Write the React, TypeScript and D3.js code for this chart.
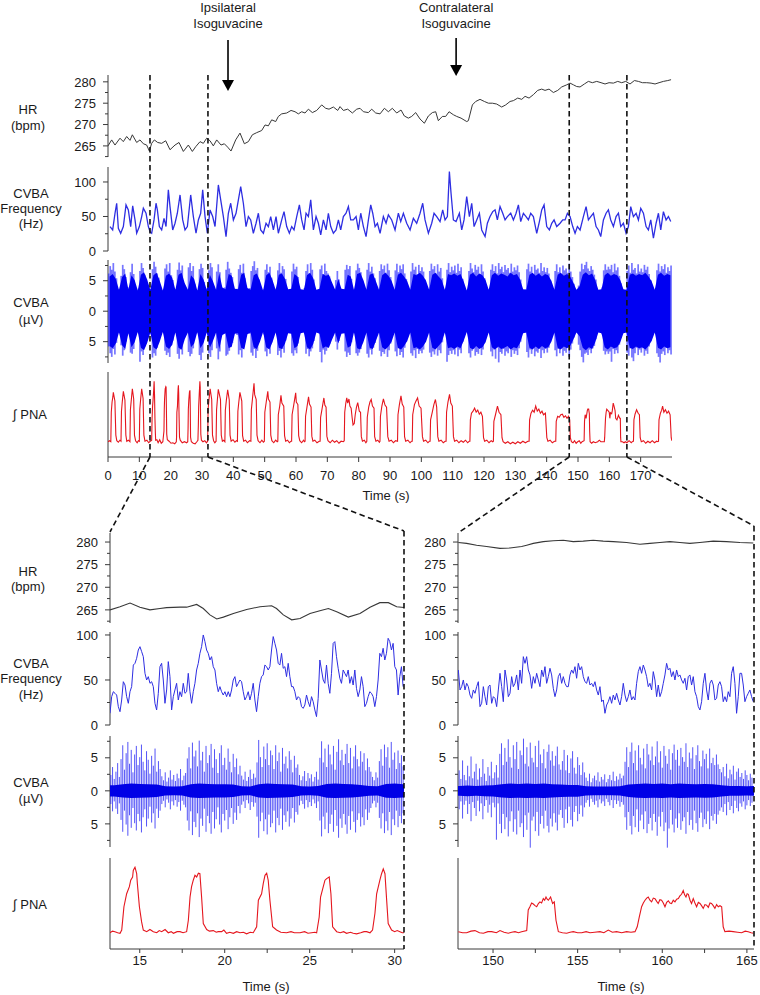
import React from "react";
import * as d3 from "d3";

type P = [number, number];

// ---------------- axis / tick data ----------------
const hrTicks = [265, 270, 275, 280];
const hrMinor = [262.5, 267.5, 272.5, 277.5];
const freqTicks = [0, 50, 100];
const freqMinor = [25, 75];
const cvbaTicks = [-5, 0, 5];
const cvbaTickLabels = ["5", "0", "5"];
const cvbaMinor = [-7.5, -2.5, 2.5, 7.5];
const topTimeTicks = [0, 10, 20, 30, 40, 50, 60, 70, 80, 90, 100, 110, 120, 130, 140, 150, 160, 170];
const leftTimeTicks = [15, 20, 25, 30];
const leftTimeMinor = [17.5, 22.5, 27.5];
const rightTimeTicks = [150, 155, 160, 165];
const rightTimeMinor = [152.5, 157.5, 162.5];
const zoomMarks = [13.4, 31.9, 147.2, 165.6];
const drugTimes = [38.3, 111.1];
const drugLabels = [["Ipsilateral", "Isoguvacine"], ["Contralateral", "Isoguvacine"]];

// ---------------- top panel data (0–180 s) ----------------
const topHR: P[] = [[0,265.0],[1.17,266.4],[2.23,265.2],[3.83,266.8],[4.89,266.0],[5.96,267.2],[7.02,266.3],[7.77,267.6],[9.15,265.8],[10.21,266.4],[11.28,265.5],[12.34,265.2],[13.19,263.8],[13.94,265.6],[14.79,266.4],[15.85,265.8],[17.13,265.6],[18.41,266.2],[19.79,264.1],[21.39,265.2],[22.66,265.8],[24.05,263.7],[25.64,265.2],[26.92,263.7],[27.98,264.8],[29.37,266.0],[30.43,265.6],[31.49,266.8],[32.56,266.2],[33.62,265.0],[34.69,266.4],[36.07,265.2],[37.13,265.5],[38.2,264.7],[39.26,263.8],[40.75,266.4],[42.13,268.0],[43.52,265.5],[44.8,266.0],[46.07,267.6],[47.45,268.1],[49.05,268.6],[50.12,269.9],[51.18,269.7],[52.24,271.1],[53.52,270.7],[54.37,271.9],[55.43,272.5],[57.03,272.7],[58.41,273.3],[59.69,273.0],[60.75,272.5],[61.82,273.0],[62.88,272.7],[63.95,273.6],[65.22,272.8],[66.61,273.3],[68.2,274.6],[69.48,273.8],[70.54,273.6],[71.93,274.1],[73.31,273.3],[74.05,274.2],[75.12,273.3],[76.5,273.6],[77.99,272.7],[79.38,273.6],[80.44,273.8],[81.51,273.0],[83.1,272.8],[84.16,273.6],[85.44,272.7],[86.82,272.5],[88.21,273.8],[89.47,273.0],[90.75,273.8],[92.13,272.7],[93.52,273.4],[94.58,272.0],[95.86,271.5],[96.92,271.9],[98.2,272.8],[99.58,271.3],[100.97,270.3],[102.24,272.0],[103.52,272.8],[104.58,273.0],[105.43,270.9],[106.71,271.9],[107.77,271.9],[108.84,273.0],[110.22,272.3],[111.29,271.9],[112.67,271.5],[114.48,270.7],[115.01,270.9],[116.29,274.6],[117.35,275.4],[118.73,275.9],[120.12,275.4],[121.4,275.0],[122.67,275.0],[124.05,274.8],[125.65,274.1],[126.93,274.6],[128.31,275.4],[129.38,275.6],[130.76,276.2],[132.04,275.9],[133.1,276.6],[134.38,276.2],[135.76,277.0],[137.14,278.0],[138.42,278.3],[139.48,278.0],[140.76,278.3],[142.14,277.5],[143.53,278.0],[144.8,278.8],[146.4,279.3],[147.46,279.7],[148.53,279.3],[149.59,278.9],[150.65,278.8],[152.04,279.5],[153.31,280.1],[154.59,279.8],[155.97,280.1],[157.36,279.8],[158.63,279.5],[159.91,279.8],[161.29,279.7],[162.68,280.1],[163.95,279.8],[165.23,280.1],[166.61,279.5],[168.0,280.3],[169.27,280.1],[170.55,279.8],[171.93,279.8],[173.32,279.7],[174.59,279.5],[175.87,279.8],[177.25,280.1],[178.64,280.3],[179.7,280.5]];

const topFreq: P[] = [[0.64,35.4],[1.49,30.5],[2.24,54.7],[2.77,69.2],[3.3,33.0],[4.05,25.7],[4.9,35.4],[5.75,66.8],[6.49,59.5],[7.24,35.4],[7.88,65.3],[8.62,45.0],[9.15,25.7],[10.01,35.4],[10.75,49.9],[11.28,61.9],[12.13,54.7],[12.88,35.4],[13.41,28.1],[13.94,25.7],[14.69,45.0],[15.33,69.2],[15.75,59.5],[16.39,35.4],[17.13,30.5],[17.88,47.4],[18.52,35.4],[19.26,88.5],[19.79,64.3],[20.65,30.5],[21.39,40.2],[22.13,54.7],[22.99,81.2],[23.84,45.0],[24.58,30.5],[25.33,35.4],[26.39,81.2],[27.24,49.9],[28.09,25.7],[28.84,45.0],[29.58,54.7],[30.22,88.5],[30.97,49.9],[31.71,25.7],[32.56,59.5],[33.41,49.9],[34.16,35.4],[35.22,95.7],[35.97,74.0],[36.82,49.9],[37.67,20.9],[38.41,54.7],[39.16,69.2],[40.01,45.0],[40.86,54.7],[41.61,74.0],[42.35,93.3],[43.2,69.2],[44.05,35.4],[44.8,49.9],[45.54,45.0],[46.39,25.7],[47.25,40.2],[47.99,54.7],[48.73,30.5],[49.59,25.7],[50.44,40.2],[51.18,35.4],[51.93,49.9],[52.78,30.5],[53.63,49.9],[54.37,25.7],[55.44,45.0],[56.18,57.1],[57.03,35.4],[57.88,25.7],[58.63,35.4],[59.37,30.5],[60.23,49.9],[61.08,66.8],[61.82,45.0],[62.57,30.5],[63.21,54.7],[63.95,49.9],[64.7,74.0],[65.55,30.5],[66.4,49.9],[67.14,40.2],[67.89,23.3],[68.74,45.0],[69.59,30.5],[70.33,54.7],[71.08,35.4],[71.93,25.7],[72.78,30.5],[73.53,45.0],[74.27,30.5],[75.12,49.9],[75.97,54.7],[76.72,64.3],[77.46,45.0],[78.31,45.0],[79.17,49.9],[79.91,30.5],[80.66,54.7],[81.51,35.4],[82.36,20.9],[83.11,45.0],[83.85,66.8],[84.49,54.7],[85.24,35.4],[85.98,40.2],[86.83,25.7],[87.88,49.9],[88.74,40.2],[89.48,52.3],[90.54,45.0],[91.61,30.5],[92.67,54.7],[93.42,42.6],[94.27,54.7],[95.33,40.2],[96.4,30.5],[97.46,47.4],[98.52,40.2],[99.59,54.7],[100.44,69.2],[101.18,45.0],[102.25,25.7],[103.31,40.2],[104.06,54.7],[104.91,49.9],[105.97,42.6],[106.82,59.5],[107.57,45.0],[108.31,49.9],[108.95,115.1],[109.48,83.7],[110.23,45.0],[111.08,42.6],[112.14,54.7],[112.89,30.5],[113.63,45.0],[114.48,78.8],[115.34,49.9],[116.08,69.2],[116.83,35.4],[117.68,45.0],[118.53,54.7],[119.27,30.5],[120.34,20.9],[121.08,40.2],[121.93,49.9],[122.78,57.1],[123.53,59.5],[124.27,45.0],[125.12,64.3],[125.98,54.7],[126.72,45.0],[127.46,49.9],[128.53,54.7],[129.38,45.0],[130.23,54.7],[130.98,66.8],[131.72,42.6],[132.57,54.7],[133.42,49.9],[134.17,45.0],[134.91,54.7],[135.76,49.9],[136.83,25.7],[137.68,42.6],[138.42,59.5],[139.17,66.8],[140.02,35.4],[140.87,30.5],[141.62,40.2],[142.36,45.0],[143.21,35.4],[144.28,40.2],[145.13,45.0],[145.87,45.0],[146.62,54.7],[147.47,49.9],[148.32,35.4],[149.06,25.7],[149.81,35.4],[150.66,30.5],[151.72,49.9],[152.58,64.3],[153.32,45.0],[154.07,49.9],[154.92,54.7],[155.77,35.4],[156.51,30.5],[157.26,20.9],[158.11,45.0],[158.96,54.7],[159.7,59.5],[160.45,45.0],[161.3,35.4],[162.15,49.9],[162.9,54.7],[163.64,35.4],[164.49,40.2],[165.34,25.7],[166.09,35.4],[166.83,64.3],[167.68,49.9],[168.54,54.7],[169.28,45.0],[170.03,61.9],[170.88,54.7],[171.73,35.4],[172.47,30.5],[173.22,45.0],[174.07,18.5],[174.92,40.2],[175.67,54.7],[176.41,30.5],[177.26,57.1],[178.11,45.0],[178.86,49.9],[179.6,42.6]];

// CVBA envelope, 0.5 s bins starting at 0.2 s: spike tops / bottoms (µV)
const topCvbaUp = [
6.2,7.4,6.8,7.9,6.5,5.4,3.6,3.1,5.8,7.6,6.9,5.6,3.3,3.9,6.4,7.8,6.1,4.2,3.0,3.7,
6.6,7.9,7.1,6.0,5.2,3.5,2.9,3.6,6.9,8.1,7.3,6.2,5.5,3.4,2.7,3.2,7.0,7.7,6.5,7.9,
5.9,5.1,3.2,3.6,6.8,8.0,6.7,7.5,4.6,3.0,3.5,7.2,7.9,6.6,7.4,4.5,2.9,3.4,6.9,7.8,
7.1,4.8,3.3,3.8,6.7,7.9,7.2,3.5,3.0,6.5,7.7,6.4,3.6,2.9,3.9,6.8,8.1,7.0,6.3,5.6,
3.4,2.8,3.7,6.9,7.6,6.3,7.8,5.4,3.3,2.9,3.8,6.6,7.4,8.2,6.7,7.1,5.2,3.5,3.0,3.6,
6.8,7.7,6.4,7.3,5.5,3.4,2.9,3.7,6.7,7.9,6.3,7.4,6.9,5.3,3.2,2.8,3.6,6.5,7.8,6.9,
7.3,5.6,3.3,2.9,3.1,3.8,6.6,7.7,6.2,7.9,6.8,5.2,3.4,2.8,3.5,6.9,7.5,6.1,7.8,6.6,
6.2,5.7,4.8,3.4,3.0,5.1,6.6,5.2,3.5,2.9,3.6,6.8,7.6,6.9,7.4,5.3,3.4,3.1,6.7,7.8,
7.1,6.4,5.0,3.3,3.0,6.8,7.9,6.5,7.3,6.2,5.4,3.4,2.9,6.6,7.7,6.9,7.5,6.3,7.8,6.7,
5.6,3.4,3.0,6.7,7.8,6.4,7.5,6.9,7.7,6.2,5.3,3.2,2.8,6.5,7.9,6.8,7.3,6.1,7.6,6.6,
7.2,6.5,5.2,3.3,2.9,6.6,7.8,6.9,7.4,6.2,7.7,6.5,7.1,5.4,3.4,3.1,6.8,7.9,6.4,7.3,
6.7,7.5,6.3,7.8,6.6,7.2,5.3,3.3,2.8,3.5,6.6,7.9,7.0,6.4,7.6,6.8,7.3,6.1,7.7,6.5,
5.4,3.3,2.9,3.6,6.8,7.7,6.6,7.4,6.2,7.9,6.9,7.3,6.4,7.6,6.8,7.1,6.3,7.8,6.5,7.2,
6.7,7.5,6.4,5.2,3.2,2.8,3.6,6.9,7.8,6.5,7.3,6.1,7.6,6.8,7.0,6.3,7.9,6.6,7.2,6.4,
7.1,6.2,5.0,3.3,3.0,6.6,7.7,6.4,7.2,6.0,7.5,6.7,7.0,6.3,7.8,6.5,5.6,4.5,3.4,3.0,
4.2,6.5,7.8,6.9,7.6,8.1,7.0,6.6,7.4,6.8,6.0,5.2,3.2,2.8,3.1,3.9,6.7,7.7,6.8,7.3,
6.9,7.6,6.4,7.8,6.7,7.2,5.8,4.6,3.3,2.9,3.4,6.6,7.5,6.3,7.9,6.8,7.1,6.2,7.7,6.5,
7.0,6.4,7.6,6.8,7.3,6.1,5.1,3.3,2.9,3.5,6.7,7.8,6.5,7.4,6.9,7.7,6.3,7.2,6.6,7.5];
const topCvbaDown = [
-5.8,-6.9,-7.5,-6.2,-7.1,-5.2,-3.4,-2.9,-5.6,-7.3,-6.4,-5.0,-3.1,-3.6,-6.8,-7.0,-6.2,-4.0,-2.8,-3.5,
-8.3,-6.6,-7.2,-5.8,-4.9,-3.3,-2.7,-3.8,-7.6,-6.9,-7.3,-6.0,-4.6,-3.0,-2.6,-3.4,-6.5,-7.2,-6.8,-7.5,
-5.6,-4.8,-3.1,-3.3,-7.0,-7.8,-6.3,-7.1,-4.4,-2.8,-3.2,-6.7,-7.4,-7.0,-6.1,-4.2,-3.0,-3.6,-7.2,-8.0,
-6.8,-4.5,-3.0,-3.5,-6.9,-7.5,-6.4,-3.2,-2.9,-6.1,-7.9,-6.6,-3.4,-2.7,-3.6,-7.3,-7.1,-6.5,-5.9,-5.2,
-3.2,-2.7,-3.9,-7.1,-6.4,-7.6,-6.0,-5.1,-3.0,-2.8,-3.7,-6.8,-7.3,-6.2,-7.7,-6.5,-4.9,-3.3,-2.9,-3.8,
-6.6,-7.4,-6.0,-7.0,-5.0,-3.1,-2.9,-3.4,-7.2,-6.5,-7.6,-6.2,-6.8,-4.8,-3.0,-2.6,-3.5,-6.9,-7.3,-6.4,
-6.9,-5.3,-3.0,-2.7,-3.2,-3.6,-7.0,-6.2,-7.4,-6.6,-6.1,-4.9,-3.1,-2.8,-3.3,-6.7,-8.4,-6.3,-7.1,-6.5,
-6.0,-5.4,-4.6,-3.2,-2.9,-5.0,-6.3,-4.9,-3.4,-2.8,-3.5,-6.6,-7.5,-6.8,-7.2,-5.1,-3.2,-3.0,-6.9,-7.3,
-6.8,-6.2,-4.8,-3.1,-2.9,-7.0,-7.6,-6.3,-7.1,-6.0,-5.2,-3.2,-2.8,-6.5,-7.4,-6.7,-7.0,-6.1,-7.5,-6.4,
-5.3,-3.3,-2.9,-6.6,-7.4,-6.1,-7.2,-6.7,-7.6,-6.0,-5.0,-3.1,-2.7,-6.9,-7.3,-6.4,-7.7,-6.2,-7.0,-6.5,
-6.9,-6.3,-5.0,-3.2,-2.8,-6.8,-7.5,-6.6,-7.1,-6.0,-7.3,-6.4,-6.9,-5.1,-3.3,-3.0,-8.3,-7.2,-6.5,-7.0,
-6.4,-7.1,-6.0,-7.4,-6.3,-6.9,-5.0,-3.1,-2.7,-3.4,-6.9,-7.6,-6.5,-6.1,-7.3,-6.7,-7.0,-5.9,-7.2,-6.3,
-5.1,-3.2,-2.8,-3.5,-6.6,-7.4,-6.3,-7.8,-6.0,-8.4,-6.7,-7.0,-6.2,-7.3,-6.6,-6.9,-6.1,-7.5,-6.4,-7.0,
-6.5,-7.2,-6.1,-5.0,-3.1,-2.7,-3.5,-6.7,-7.6,-6.3,-7.0,-5.9,-7.4,-6.6,-6.8,-6.2,-7.7,-6.4,-6.9,-6.2,
-6.8,-6.0,-4.8,-3.2,-2.9,-6.4,-7.4,-6.2,-6.9,-5.8,-7.3,-6.5,-6.8,-6.0,-7.5,-6.3,-5.3,-4.3,-3.3,-2.9,
-5.5,-6.4,-7.5,-8.4,-7.0,-6.8,-7.2,-6.3,-6.9,-6.1,-5.7,-4.6,-3.0,-2.7,-3.0,-3.8,-6.5,-7.1,-6.6,-7.0,
-6.6,-8.3,-6.2,-7.0,-6.4,-6.9,-5.5,-4.4,-3.2,-2.8,-3.3,-6.8,-7.3,-6.1,-7.6,-8.2,-6.9,-6.0,-7.2,-6.3,
-6.8,-6.1,-7.3,-6.5,-7.0,-5.8,-4.9,-3.1,-2.8,-3.4,-6.9,-7.5,-8.4,-7.0,-6.6,-7.2,-6.0,-6.9,-6.4,-7.1];
// half-width of the dense CVBA band, 1 s bins starting at 0.5 s
const topCvbaCore = [
5.7,6.1,5.3,3.5,5.6,6.2,3.6,5.9,5.1,3.4,6.0,6.4,5.2,3.5,5.9,6.3,5.0,3.4,5.8,6.2,
5.5,3.5,6.0,6.3,4.6,3.5,5.9,5.3,3.4,6.1,5.2,3.5,6.0,4.9,3.5,6.2,3.9,3.6,6.1,5.8,
3.7,3.6,6.0,6.3,3.8,3.5,5.9,6.2,5.0,3.4,5.9,6.3,5.1,3.5,6.0,6.2,5.3,3.6,3.7,6.1,
5.7,3.6,3.5,5.9,6.3,5.4,3.5,3.7,6.1,5.8,6.0,4.7,3.5,5.3,3.7,3.6,6.0,5.7,3.5,6.1,
6.3,5.1,3.5,6.0,6.2,4.9,3.5,5.9,6.3,5.8,5.0,3.5,6.0,6.3,5.7,4.9,3.5,6.1,5.9,6.3,
5.8,5.0,3.5,6.0,6.3,5.7,5.1,3.5,6.1,5.9,6.2,5.8,6.1,4.9,3.4,6.0,6.3,5.7,6.2,5.9,
5.1,3.5,5.9,6.3,5.8,6.2,6.0,5.7,6.3,5.9,6.1,5.2,3.6,3.5,6.0,6.3,5.8,6.2,5.7,6.1,
5.9,5.0,3.5,6.0,6.3,5.8,6.1,5.7,4.7,3.5,4.1,6.0,6.4,5.9,6.2,5.1,3.5,3.6,5.9,6.3,
5.8,6.1,5.9,5.1,3.6,3.5,6.0,6.2,5.8,6.1,5.9,6.3,5.7,4.9,3.5,6.0,6.3,5.8,6.1,5.9];

const topPNA: P[] = [[0,0.02],[0.5,0.04],[0.9,0.02],[1.05,0.6],[1.3,0.8],[1.55,0.9],[1.7,0.99],[2.2,0.82],[2.5,0.15],[2.8,0.04],[3.3,0.01],[3.8,0.05],
[4.15,0.03],[4.3,0.62],[4.55,0.8],[4.9,1.01],[5.4,0.84],[5.7,0.15],[6.0,0.03],[6.5,0.05],
[7.0,0.02],[7.15,0.65],[7.45,0.85],[7.77,1.06],[8.2,0.86],[8.45,0.15],[8.8,0.04],[9.3,0.0],[9.7,0.04],
[10.0,0.03],[10.15,0.66],[10.4,0.84],[10.75,1.06],[11.2,0.87],[11.45,0.15],[11.8,0.03],[12.4,0.05],[13.0,0.0],[13.5,0.03],
[13.94,0.05],[14.07,0.48],[14.23,0.72],[14.39,0.85],[14.58,1.03],[14.72,1.21],[14.86,0.91],[14.98,0.48],[15.11,0.2],[15.21,0.05],[15.6,0.06],[16.0,0.0],[16.5,0.06],[17.0,-0.01],[17.5,0.02],
[17.86,0.23],[17.96,0.66],[18.05,0.85],[18.25,1.06],[18.45,1.1],[18.54,1.09],[18.64,0.66],[18.74,0.17],[18.94,0.06],[19.5,0.03],[20.1,-0.01],[20.7,0.0],[21.3,-0.02],[21.8,0.02],
[21.88,0.11],[21.98,0.6],[22.17,0.72],[22.27,0.91],[22.37,1.06],[22.47,1.13],[22.56,0.97],[22.66,0.6],[22.82,0.11],[23.05,0.05],[23.7,0.0],[24.4,0.02],[25.1,0.0],[25.45,0.02],
[25.56,0.29],[25.64,0.66],[25.8,0.85],[26.0,1.0],[26.15,1.03],[26.25,0.72],[26.35,0.11],[26.6,0.02],[27.2,-0.01],[27.8,-0.02],[28.35,0.02],[28.7,0.05],
[28.84,0.36],[28.94,0.72],[29.04,0.85],[29.13,0.97],[29.23,1.09],[29.33,1.21],[29.43,1.09],[29.53,0.6],[29.62,0.17],[29.82,0.05],[30.3,0.02],[30.9,0.04],[31.4,0.0],
[31.8,0.03],[31.95,0.66],[32.25,0.86],[32.6,1.06],[33.1,0.85],[33.35,0.15],[33.7,0.04],[34.1,0.0],
[34.5,0.03],[34.65,0.65],[34.9,0.84],[35.2,1.05],[35.9,0.85],[36.15,0.15],[36.5,0.03],[36.9,0.05],
[37.3,0.02],[37.45,0.64],[37.8,0.85],[38.2,1.04],[38.7,0.84],[38.95,0.15],[39.3,0.03],[39.9,0.06],[40.5,0.01],[41.0,0.04],
[41.3,0.03],[41.45,0.62],[41.75,0.8],[42.1,0.99],[42.7,0.82],[42.95,0.14],[43.3,0.03],[43.9,0.05],[44.5,0.0],[45.2,0.04],
[45.6,0.03],[45.75,0.65],[46.1,0.86],[46.6,1.17],[46.8,0.95],[47.3,0.85],[47.55,0.15],[47.9,0.04],[48.5,0.0],[49.1,0.05],[49.6,0.01],
[49.9,0.03],[50.05,0.6],[50.5,0.8],[51.0,1.01],[51.2,0.86],[51.7,0.8],[51.95,0.15],[52.3,0.04],[52.9,0.0],[53.5,0.05],[54.0,0.02],
[54.2,0.03],[54.35,0.55],[54.8,0.72],[55.2,0.93],[55.5,0.78],[56.1,0.72],[56.35,0.14],[56.7,0.03],[57.3,0.05],[57.9,0.0],[58.4,0.03],
[58.6,0.03],[58.75,0.55],[59.3,0.75],[59.9,0.98],[60.1,0.8],[60.6,0.75],[60.85,0.14],[61.2,0.04],[61.8,0.0],[62.4,0.05],[62.7,0.02],
[62.9,0.03],[63.05,0.52],[63.5,0.7],[64.0,0.9],[64.3,0.76],[64.8,0.7],[65.05,0.13],[65.4,0.03],[66.0,0.05],[66.7,0.0],[67.4,0.03],
[67.7,0.03],[67.85,0.5],[68.3,0.66],[68.9,0.88],[69.2,0.74],[69.6,0.7],[69.85,0.13],[70.2,0.04],[70.9,0.0],[71.6,0.05],[72.3,0.01],[73.0,0.04],[73.7,-0.01],[74.4,0.03],[75.1,0.02],
[75.4,0.04],[75.55,0.6],[75.9,0.78],[76.2,0.88],[76.5,0.78],[76.9,0.86],[77.2,0.72],[77.6,0.68],[77.9,0.5],[78.2,0.35],
[78.6,0.38],[78.9,0.55],[79.3,0.7],[79.7,0.79],[80.2,0.62],[80.6,0.6],[80.85,0.12],[81.2,0.03],[81.8,0.05],[82.3,0.0],
[82.6,0.03],[82.75,0.5],[83.2,0.7],[83.6,0.8],[84.0,0.85],[84.4,0.72],[84.9,0.68],[85.1,0.12],[85.5,0.03],[86.1,0.05],[86.6,0.01],
[86.8,0.03],[86.95,0.52],[87.4,0.72],[87.9,0.86],[88.4,0.74],[88.9,0.7],[89.3,0.12],[89.7,0.03],[90.4,0.05],[91.1,0.0],[91.8,0.04],
[92.4,0.03],[92.55,0.55],[93.0,0.75],[93.5,0.92],[93.9,0.76],[94.4,0.7],[94.65,0.12],[95.0,0.03],[95.7,0.05],[96.4,0.0],[96.9,0.03],
[97.1,0.03],[97.25,0.55],[97.8,0.75],[98.3,0.82],[98.8,0.88],[99.3,0.72],[99.9,0.68],[100.35,0.12],[100.7,0.03],[101.4,0.05],[102.1,0.0],[102.6,0.03],
[102.8,0.03],[102.95,0.45],[103.5,0.6],[104.0,0.75],[104.5,0.85],[104.9,0.7],[105.25,0.12],[105.6,0.03],[106.3,0.05],[107.0,0.0],[107.6,0.03],
[107.9,0.03],[108.05,0.6],[108.5,0.8],[109.0,0.95],[109.4,0.78],[109.9,0.72],[110.25,0.12],[110.6,0.03],[111.3,0.05],[112.0,0.0],[112.7,0.04],[113.4,0.01],[114.1,0.05],[114.8,0.0],[115.3,0.03],
[115.5,0.03],[115.65,0.45],[116.0,0.58],[116.5,0.62],[117.0,0.68],[117.5,0.6],[118.0,0.64],[118.5,0.56],[119.0,0.6],[119.5,0.52],[119.85,0.1],[120.2,0.03],[120.9,0.05],[121.6,0.0],[122.3,0.04],[122.8,0.02],
[123.0,0.03],[123.15,0.42],[123.7,0.56],[124.3,0.72],[124.8,0.6],[125.4,0.55],[125.75,0.1],[126.1,0.02],[126.8,-0.01],[127.6,0.02],[128.4,-0.02],[129.2,0.01],[130.0,-0.02],[130.8,0.02],[131.6,-0.01],[132.4,0.03],[133.2,0.0],[134.0,0.03],
[134.4,0.03],[134.55,0.45],[135.0,0.58],[135.5,0.64],[136.0,0.6],[136.5,0.72],[137.0,0.62],[137.5,0.66],[138.0,0.58],[138.5,0.62],[139.0,0.55],[139.6,0.58],[140.05,0.1],[140.4,0.03],[141.1,0.05],[141.8,0.0],[142.5,0.03],
[142.9,0.03],[143.05,0.42],[143.5,0.52],[144.0,0.5],[144.5,0.55],[145.0,0.56],[145.5,0.5],[146.0,0.53],[146.5,0.48],[147.0,0.52],[147.35,0.45],[147.55,0.1],[147.9,0.02],
[148.4,0.0],[148.9,0.04],[149.4,-0.01],[149.9,0.02],[150.4,0.04],[150.9,-0.01],[151.3,0.02],[151.95,0.04],
[152.08,0.42],[152.28,0.55],[152.58,0.48],[152.97,0.63],[153.13,0.66],[153.4,0.66],[153.62,0.57],[153.72,0.23],[153.86,0.02],[154.35,-0.01],[154.9,0.02],[155.5,0.0],[156.3,0.02],[156.8,0.05],[157.3,0.02],[157.9,0.02],[158.4,0.02],
[158.52,0.11],[158.64,0.29],[158.78,0.48],[158.98,0.6],[159.17,0.66],[159.57,0.63],[159.96,0.6],[160.16,0.48],[160.36,0.59],[160.75,0.57],[160.95,0.63],[161.24,0.78],[161.54,0.71],[161.83,0.63],[162.03,0.48],[162.42,0.45],[162.91,0.54],[163.31,0.48],[163.51,0.48],[163.6,0.11],[163.7,0.02],[164.2,0.02],[164.7,0.0],[165.1,0.02],[165.6,0.0],[166.3,0.04],[167.0,0.0],[167.5,0.03],
[167.7,0.03],[167.85,0.45],[168.2,0.56],[168.7,0.65],[169.2,0.58],[169.6,0.55],[169.85,0.1],[170.2,0.02],[170.9,0.04],[171.6,-0.01],[172.3,0.03],[173.0,0.0],[173.7,0.04],[174.4,0.0],[175.1,0.03],[175.5,0.02],
[175.7,0.03],[175.85,0.45],[176.3,0.58],[176.7,0.64],[177.0,0.72],[177.4,0.6],[177.9,0.65],[178.4,0.58],[178.9,0.62],[179.4,0.55],[179.75,0.1],[179.95,0.04]];

// ---------------- bottom-left panel (13.25–30.55 s) ----------------
const leftHR: P[] = [[13.25,265.0],[13.84,265.7],[14.43,266.5],[15.01,265.6],[15.6,265.0],[16.19,265.3],[16.58,265.5],[17.37,265.6],[17.76,265.6],[18.35,266.2],[18.74,265.3],[19.13,263.9],[19.53,263.0],[19.92,263.4],[20.51,264.2],[21.29,265.1],[22.08,265.7],[22.76,265.9],[23.05,265.3],[23.45,263.9],[23.94,262.8],[24.43,263.1],[25.02,264.2],[25.6,264.8],[26.1,265.3],[26.59,264.6],[27.27,263.4],[27.96,264.2],[28.55,265.6],[29.13,266.6],[29.63,266.6],[30.12,265.7],[30.6,265.5]];
// CVBA frequency sampled every 0.098 s from 13.25 s
const leftFreq = [13.0,31.5,37.0,35.2,33.3,20.4,14.8,27.8,48.1,44.4,31.5,24.1,37.0,42.6,66.6,68.5,74.1,83.3,87.0,81.5,75.9,57.4,50.0,53.7,46.3,48.1,42.6,24.1,16.7,35.2,64.8,68.5,50.0,24.1,38.9,70.4,53.7,16.7,31.5,38.9,46.3,27.8,37.0,31.5,46.3,35.2,37.0,57.4,37.0,24.1,37.0,46.3,61.1,68.5,79.6,87.0,100.0,92.6,83.3,79.6,72.2,75.9,64.8,61.1,46.3,37.0,42.6,37.0,33.3,37.0,31.5,37.0,31.5,38.9,50.0,53.7,42.6,46.3,50.0,48.1,37.0,27.8,31.5,37.0,27.8,35.2,46.3,27.8,14.8,31.5,46.3,53.7,55.6,66.6,64.8,61.1,64.8,83.3,98.2,90.7,83.3,68.5,66.6,79.6,63.0,64.8,53.7,68.5,53.7,42.6,42.6,37.0,27.8,31.5,29.6,20.4,18.5,22.2,33.3,25.9,20.4,31.5,25.9,16.7,9.3,29.6,72.2,61.1,50.0,46.3,66.6,46.3,35.2,57.4,90.7,92.6,75.9,63.0,51.9,46.3,61.1,57.4,53.7,61.1,46.3,53.7,44.4,61.1,40.7,31.5,38.9,53.7,42.6,20.4,24.1,31.5,37.0,35.2,31.5,20.4,31.5,50.0,79.6,75.9,85.2,72.2,79.6,96.3,92.6,83.3,90.7,64.8,61.1,33.3,53.7,64.8,42.6];
// CVBA spike extents, 0.1 s bins from 13.3 s
const leftCvbaUp = [2.4,3.6,1.8,2.9,4.2,2.1,
4.8,6.9,3.2,5.7,7.4,4.1,6.2,2.8,5.5,6.8,3.9,5.1,7.0,4.4,3.1,6.0,4.7,2.6,5.3,3.8,6.4,2.9,4.5,3.3,
2.2,1.6,2.8,1.4,2.0,3.1,1.7,2.4,1.5,2.6,1.9,3.3,1.6,2.3,2.7,
4.9,6.6,3.4,7.3,5.2,6.1,3.7,7.6,4.6,5.9,2.9,6.8,4.2,5.4,7.1,3.5,6.3,4.8,2.7,5.7,6.9,3.9,5.0,3.2,6.4,4.4,2.8,5.6,3.6,4.9,2.5,3.8,
2.3,1.7,2.9,1.5,2.1,3.2,1.8,2.6,2.0,
4.3,7.7,5.1,3.6,6.7,4.8,7.2,3.9,6.1,5.4,3.3,6.9,4.5,5.8,2.9,6.5,4.1,5.2,3.4,6.0,4.7,2.8,5.3,3.5,4.0,
2.4,1.6,2.2,3.0,1.5,2.7,1.9,2.5,1.4,2.1,2.9,1.7,
5.0,7.5,4.3,6.4,3.6,7.0,5.5,4.0,6.8,3.2,5.9,7.8,4.6,6.2,3.9,5.6,7.1,4.2,6.5,3.4,5.2,6.9,4.8,3.7,6.0,4.4,5.7,3.1,4.9,3.6,2.9,
2.1,1.6,2.8,2.0,
4.5,6.3,3.8,7.0,5.1,6.6,3.5,7.4,4.7,5.8,3.3,6.1,4.2,5.4,3.7];
const leftCvbaDown = [-2.0,-3.1,-1.6,-2.7,-3.5,-1.9,
-4.4,-6.2,-3.0,-5.1,-6.8,-3.7,-5.6,-2.6,-4.9,-6.0,-3.5,-4.6,-6.3,-4.0,-2.8,-5.4,-4.2,-2.4,-4.8,-3.4,-5.7,-2.7,-4.1,-3.0,
-2.0,-1.5,-2.5,-1.3,-1.8,-2.8,-1.6,-2.2,-1.4,-2.4,-1.7,-3.0,-1.5,-2.1,-2.5,
-4.5,-6.0,-3.1,-6.7,-4.7,-5.5,-3.4,-7.0,-4.2,-5.3,-2.7,-6.2,-3.8,-4.9,-6.5,-3.2,-5.7,-4.3,-2.5,-5.1,-6.3,-3.5,-4.5,-2.9,-5.8,-4.0,-2.6,-5.0,-3.3,-4.4,-2.3,-3.4,
-2.1,-1.6,-2.6,-1.4,-1.9,-2.9,-1.7,-2.4,-1.8,
-3.9,-7.1,-4.6,-3.3,-6.1,-4.3,-6.6,-3.6,-5.5,-4.9,-3.0,-6.3,-4.1,-5.2,-2.7,-5.9,-3.7,-4.7,-3.1,-5.4,-4.2,-2.6,-4.8,-3.2,-3.6,
-2.2,-1.5,-2.0,-2.7,-1.4,-2.5,-1.7,-2.3,-1.3,-1.9,-2.6,-1.6,
-4.5,-6.9,-3.9,-5.8,-3.3,-6.4,-5.0,-3.6,-6.2,-2.9,-5.3,-7.1,-4.2,-5.6,-3.5,-5.1,-6.5,-3.8,-5.9,-3.1,-4.7,-6.3,-4.4,-3.4,-5.4,-4.0,-5.2,-2.8,-4.4,-3.3,-2.6,
-1.9,-1.5,-2.5,-1.8,
-4.1,-5.7,-3.4,-6.4,-4.6,-6.0,-3.2,-6.7,-4.3,-5.2,-3.0,-5.5,-3.8,-4.9,-3.4];
// dense-band half-width, 0.5 s bins from 13.0 s
const leftCvbaCore = [0.85,0.85,1.0,1.1,1.05,1.0,0.95,0.7,0.65,0.7,1.0,1.1,1.05,1.0,1.0,0.95,0.7,0.65,1.0,1.1,1.05,1.0,0.95,0.7,0.65,0.75,1.05,1.1,1.05,1.0,0.9,0.75,0.7,1.05,1.1,1.0,1.0];
const leftPNA: P[] = [[13.25,0.0],[13.4,0.03],[13.54,0.02],[13.7,0.0],[13.84,-0.01],[13.94,0.05],[14.07,0.48],[14.23,0.72],[14.39,0.85],[14.47,0.97],[14.58,1.03],[14.62,1.15],[14.72,1.21],[14.82,1.09],[14.86,0.91],[14.98,0.48],[15.11,0.2],[15.21,0.05],[15.41,0.02],[15.6,0.06],[15.8,0.02],[16.0,0.0],[16.15,0.04],[16.29,0.02],[16.49,0.06],[16.68,0.0],[16.85,0.02],[16.98,-0.01],[17.2,0.02],[17.37,0.02],[17.55,0.0],[17.76,0.02],[17.86,0.23],[17.96,0.66],[18.05,0.85],[18.15,0.97],[18.25,1.06],[18.35,1.03],[18.45,1.1],[18.54,1.09],[18.64,0.66],[18.74,0.17],[18.94,0.06],[19.1,0.03],[19.33,0.04],[19.5,0.01],[19.62,0.02],[19.82,0.02],[19.95,0.05],[20.11,-0.01],[20.3,0.01],[20.51,-0.01],[20.7,0.02],[20.9,0.0],[21.1,0.01],[21.29,-0.02],[21.5,0.01],[21.68,0.0],[21.88,0.11],[21.98,0.6],[22.17,0.72],[22.27,0.91],[22.37,1.06],[22.47,1.1],[22.56,0.97],[22.66,0.6],[22.82,0.11],[23.05,0.05],[23.3,0.01],[23.64,0.0],[23.9,0.02],[24.1,0.0],[24.43,0.0],[24.7,0.02],[24.9,-0.01],[25.11,0.0],[25.3,0.01],[25.41,0.0],[25.56,0.29],[25.64,0.66],[25.8,0.85],[25.9,0.97],[26.0,1.0],[26.15,1.03],[26.25,0.72],[26.35,0.11],[26.59,0.02],[26.8,0.0],[27.0,0.02],[27.17,-0.01],[27.4,0.01],[27.56,-0.01],[27.76,-0.02],[28.0,0.0],[28.2,0.02],[28.35,0.02],[28.55,0.0],[28.7,0.05],[28.84,0.36],[28.94,0.72],[29.04,0.85],[29.13,0.97],[29.23,1.09],[29.33,1.18],[29.43,1.09],[29.53,0.6],[29.62,0.17],[29.82,0.05],[30.0,0.02],[30.15,0.04],[30.31,0.02],[30.45,0.0],[30.61,0.0]];

// ---------------- bottom-right panel (147.93–165.42 s) ----------------
const rightHR: P[] = [[147.95,279.9],[148.44,279.7],[149.03,279.3],[149.62,279.0],[150.41,278.6],[151.0,278.7],[151.69,279.0],[151.99,279.3],[152.38,279.7],[152.97,280.1],[153.56,280.3],[154.15,280.4],[154.74,280.1],[155.33,280.2],[155.92,280.4],[156.51,280.2],[157.11,280.1],[157.89,279.9],[158.68,279.5],[159.27,279.7],[159.86,279.9],[160.45,280.1],[161.04,279.9],[161.63,279.7],[162.22,279.9],[163.01,280.2],[163.8,280.1],[164.59,279.9],[165.38,279.8]];
// CVBA frequency sampled every 0.09845 s from 147.95 s
const rightFreq = [61.1,38.9,42.6,50.0,38.9,46.3,42.6,33.3,29.6,38.9,35.2,42.6,48.1,20.4,24.1,42.6,31.5,22.2,42.6,44.4,24.1,31.5,29.6,20.4,38.9,57.4,42.6,25.9,61.1,50.0,31.5,35.2,53.7,42.6,46.3,55.6,38.9,61.1,46.3,75.9,68.5,75.9,61.1,55.6,40.7,53.7,46.3,57.4,50.0,42.6,61.1,53.7,64.8,46.3,53.7,63.0,55.6,40.7,31.5,38.9,53.7,57.4,46.3,53.7,46.3,42.6,42.6,55.6,61.1,57.4,64.8,51.9,68.5,61.1,64.8,53.7,48.1,46.3,53.7,44.4,46.3,42.6,48.1,38.9,33.3,42.6,25.9,27.8,13.0,22.2,25.9,31.5,24.1,33.3,27.8,35.2,27.8,22.2,31.5,46.3,33.3,25.9,31.5,38.9,27.8,31.5,27.8,46.3,59.3,64.8,57.4,66.6,61.1,53.7,42.6,46.3,38.9,59.3,50.0,31.5,44.4,31.5,37.0,46.3,55.6,68.5,61.1,63.0,53.7,59.3,50.0,61.1,53.7,55.6,50.0,46.3,51.9,38.9,53.7,55.6,44.4,53.7,37.0,31.5,20.4,16.7,25.9,46.3,57.4,38.9,27.8,46.3,50.0,44.4,27.8,29.6,44.4,48.1,42.6,25.9,31.5,25.9,37.0,31.5,57.4,64.8,46.3,13.0,31.5,57.4,57.4,44.4,25.9,31.5,35.2,38.9,31.5,25.9];
// CVBA spike extents, 0.1 s bins from 148.0 s
const rightCvbaUp = [3.1,1.8,4.6,2.4,1.6,3.8,2.2,5.2,1.9,2.9,4.1,1.7,3.4,2.1,4.8,2.6,1.5,3.6,2.3,4.4,1.9,2.8,3.9,2.0,
5.6,7.2,3.9,6.5,4.4,7.8,5.1,3.5,6.9,4.8,7.4,3.3,6.1,5.4,7.9,4.1,6.6,3.7,7.3,5.0,4.3,6.8,3.6,7.6,5.5,4.2,6.3,3.4,5.9,7.0,4.6,6.0,3.8,5.3,6.7,4.0,3.2,
4.5,6.2,3.1,5.4,2.7,4.9,6.0,3.5,2.6,5.1,3.9,2.4,4.3,2.8,
2.0,1.5,2.6,1.3,1.9,2.3,1.6,2.8,1.4,2.1,1.7,2.5,1.3,1.8,2.4,1.6,2.9,1.5,2.2,1.7,2.6,1.9,2.3,
4.4,6.6,3.6,5.9,7.3,4.2,6.1,3.1,6.9,5.0,4.0,6.4,3.4,7.1,5.5,4.6,6.7,3.9,5.2,7.5,4.3,6.0,3.5,6.8,5.3,4.1,6.3,3.2,5.7,7.0,4.7,6.2,3.8,6.5,5.1,4.4,7.2,3.6,5.8,4.9,6.6,3.3,5.4,6.9,4.5,3.7,6.1,4.8,5.6,3.4,6.4,4.2,5.0,3.9,5.5,4.0,3.3,
2.8,3.6,2.2,4.1,1.9,3.2,2.5,3.8,1.7,2.9,3.4,2.1,2.7,1.8,3.1,2.4,1.6,2.6,2.0];
const rightCvbaDown = [-2.8,-1.6,-4.2,-2.1,-1.5,-3.5,-2.0,-4.6,-1.7,-2.6,-3.8,-1.5,-3.1,-1.9,-4.3,-2.3,-1.4,-3.3,-2.1,-4.0,-1.8,-2.5,-7.4,-1.9,
-5.0,-6.4,-3.5,-5.8,-4.0,-6.9,-4.6,-3.1,-6.2,-4.3,-6.6,-3.0,-5.5,-4.9,-7.0,-3.7,-5.9,-3.3,-8.6,-4.5,-3.9,-6.1,-3.2,-6.8,-5.0,-3.8,-5.7,-3.0,-5.3,-6.3,-4.2,-5.4,-3.4,-4.8,-6.0,-3.6,-2.9,
-4.1,-5.6,-2.8,-4.9,-2.4,-4.4,-5.4,-3.2,-2.3,-4.6,-3.5,-2.2,-3.9,-2.5,
-1.8,-1.4,-2.4,-1.2,-1.7,-2.1,-1.5,-2.5,-1.3,-1.9,-1.6,-2.3,-1.2,-1.7,-2.2,-1.4,-2.6,-1.4,-2.0,-1.5,-2.4,-1.7,-2.1,
-4.0,-5.9,-3.2,-5.3,-6.6,-3.8,-5.5,-2.8,-6.2,-4.5,-3.6,-5.8,-3.1,-6.4,-5.0,-4.1,-6.0,-3.5,-4.7,-6.8,-3.9,-5.4,-3.2,-6.1,-4.8,-8.6,-5.7,-2.9,-5.1,-6.3,-4.2,-5.6,-3.4,-5.9,-4.6,-4.0,-6.5,-3.2,-5.2,-4.4,-5.9,-3.0,-4.9,-6.2,-4.1,-3.3,-5.5,-4.3,-5.0,-3.1,-5.8,-3.8,-4.5,-3.5,-5.0,-3.6,-3.0,
-2.5,-3.2,-2.0,-3.7,-1.7,-2.9,-2.3,-3.4,-1.5,-2.6,-3.1,-1.9,-2.4,-1.6,-2.8,-2.2,-1.4,-2.3,-1.8];
// dense-band half-width, 0.5 s bins from 147.5 s
const rightCvbaCore = [0.75,0.75,0.8,0.75,0.8,0.85,1.0,1.1,1.05,1.1,1.05,1.1,1.0,0.95,0.9,0.9,0.7,0.65,0.65,0.65,0.7,0.95,1.05,1.1,1.05,1.1,1.0,1.1,1.05,1.0,1.05,1.0,0.85,0.75,0.75,0.7,0.75];
const rightPNA: P[] = [[147.95,0.02],[148.2,0.0],[148.44,0.0],[148.7,0.03],[148.93,0.04],[149.2,0.0],[149.43,-0.01],[149.7,0.02],[149.92,0.02],[150.2,0.0],[150.41,0.04],[150.65,0.01],[150.9,-0.01],[151.1,0.01],[151.3,0.02],[151.5,0.0],[151.69,0.02],[151.99,0.04],[152.08,0.42],[152.18,0.48],[152.28,0.55],[152.38,0.53],[152.48,0.5],[152.58,0.48],[152.68,0.54],[152.77,0.57],[152.87,0.55],[152.97,0.63],[153.05,0.6],[153.13,0.66],[153.2,0.62],[153.27,0.6],[153.4,0.66],[153.52,0.54],[153.62,0.57],[153.72,0.23],[153.86,0.02],[154.1,0.0],[154.35,-0.01],[154.55,0.01],[154.74,0.02],[155.0,0.0],[155.24,0.0],[155.5,0.02],[155.73,0.0],[156.0,0.01],[156.32,0.02],[156.55,0.0],[156.81,0.05],[157.05,0.01],[157.3,0.02],[157.6,0.0],[157.89,0.02],[158.15,0.01],[158.39,0.02],[158.52,0.11],[158.64,0.29],[158.78,0.48],[158.88,0.55],[158.98,0.6],[159.08,0.64],[159.17,0.66],[159.27,0.6],[159.37,0.57],[159.47,0.64],[159.57,0.63],[159.67,0.58],[159.76,0.54],[159.86,0.61],[159.96,0.6],[160.06,0.55],[160.16,0.48],[160.26,0.56],[160.36,0.59],[160.45,0.55],[160.55,0.54],[160.65,0.6],[160.75,0.57],[160.85,0.62],[160.95,0.63],[161.04,0.68],[161.14,0.71],[161.24,0.78],[161.32,0.7],[161.4,0.66],[161.47,0.72],[161.54,0.71],[161.64,0.6],[161.73,0.54],[161.83,0.63],[161.93,0.55],[162.03,0.48],[162.13,0.56],[162.23,0.54],[162.32,0.5],[162.42,0.45],[162.52,0.52],[162.62,0.51],[162.72,0.47],[162.82,0.55],[162.91,0.54],[163.01,0.5],[163.11,0.45],[163.21,0.52],[163.31,0.48],[163.41,0.5],[163.51,0.48],[163.6,0.11],[163.7,0.02],[163.95,0.03],[164.19,0.02],[164.45,0.01],[164.69,0.0],[164.9,0.03],[165.08,0.02],[165.25,0.0],[165.38,-0.01]];

// ---------------- rendering ----------------
const FONT = "'Liberation Sans', Arial, Helvetica, sans-serif";
const AXIS = "#3a3a3a";
const TXT = "#1a1a1a";

function grid(values: number[], t0: number, dt: number): P[] {
  return values.map((v, i) => [t0 + i * dt, v] as P);
}

function YAxis({ scale, x, ticks, minor, labels }: any) {
  const [yb, yt] = scale.range();
  return (
    <g>
      <line x1={x} x2={x} y1={yt} y2={yb} stroke={AXIS} strokeWidth={1} />
      {minor.map((v: number, i: number) => (
        <line key={"m" + i} x1={x - 3} x2={x} y1={scale(v)} y2={scale(v)} stroke={AXIS} />
      ))}
      {ticks.map((v: number, i: number) => (
        <g key={"t" + i}>
          <line x1={x - 5} x2={x} y1={scale(v)} y2={scale(v)} stroke={AXIS} />
          <text x={x - 12} y={scale(v)} dy="0.36em" textAnchor="end" fontSize={13} fill={TXT}>
            {labels ? labels[i] : String(v)}
          </text>
        </g>
      ))}
    </g>
  );
}

function XAxis({ scale, y, ticks, minor, labelY, tickLen }: any) {
  const [x0, x1] = scale.range();
  return (
    <g>
      <line x1={x0} x2={x1} y1={y} y2={y} stroke={AXIS} />
      {(minor || []).map((v: number, i: number) => (
        <line key={"m" + i} x1={scale(v)} x2={scale(v)} y1={y} y2={y + tickLen} stroke={AXIS} />
      ))}
      {ticks.map((v: number, i: number) => (
        <g key={"t" + i}>
          <line x1={scale(v)} x2={scale(v)} y1={y} y2={y + tickLen} stroke={AXIS} />
          <text x={scale(v)} y={labelY} textAnchor="middle" fontSize={13} fill={TXT}>{String(v)}</text>
        </g>
      ))}
    </g>
  );
}

function Spikes({ x, y, up, down, t0, dt, color, width, opacity }: any) {
  return (
    <g stroke={color} strokeWidth={width} strokeOpacity={opacity}>
      {up.map((u: number, i: number) => {
        const xx = x(t0 + i * dt);
        return <line key={i} x1={xx} x2={xx} y1={y(down[i])} y2={y(u)} />;
      })}
    </g>
  );
}

function Labels({ x, items }: any) {
  return (
    <g fontSize={13} fill={TXT} textAnchor="middle">
      {items.map((it: any, i: number) => (
        <text key={i} x={x} y={it[1]}>{it[0]}</text>
      ))}
    </g>
  );
}

function lineOf(x: any, y: any) {
  return d3.line<P>().x((d) => x(d[0])).y((d) => y(d[1]));
}
function bandOf(x: any, y: any) {
  return d3.area<P>().x((d) => x(d[0])).y0((d) => y(-d[1])).y1((d) => y(d[1]));
}

export default function App() {
  // top panel scales
  const xT = d3.scaleLinear().domain([0, 180]).range([108, 672]);
  const hrT = d3.scaleLinear().domain([262.4, 281.6]).range([157, 75]);
  const frT = d3.scaleLinear().domain([0, 121.7]).range([251, 167]);
  const cvT = d3.scaleLinear().domain([-8.5, 8.4]).range([363, 260]);
  const pnT = d3.scaleLinear().domain([-0.28, 1.39]).range([457, 372]);

  // bottom panels
  const xL = d3.scaleLinear().domain([13.25, 30.55]).range([110, 404]);
  const xR = d3.scaleLinear().domain([147.93, 165.42]).range([458, 754]);
  const hrB = d3.scaleLinear().domain([262.1, 282]).range([623, 533]);
  const frB = d3.scaleLinear().domain([0, 103.3]).range([725, 632]);
  const cvB = d3.scaleLinear().domain([-8.5, 8.3]).range([847, 736]);
  const pnB = d3.scaleLinear().domain([-0.3, 1.38]).range([949, 858]);

  const HRC = "#383838";
  const FRC = "#2e2ee2";
  const CVC = "#1a1aff";
  const PNC = "#e5161e";

  const bottomPanel = (x: any, key: string, hr: P[], fr: number[], frT0: number, frDt: number,
    up: number[], down: number[], spT0: number, core: number[], coreT0: number, pna: P[],
    ticks: number[], minor: number[]) => {
    const x0 = x.range()[0];
    return (
      <g key={key}>
        <defs>
          <clipPath id={"clip" + key}>
            <rect x={x.range()[0]} y={525} width={x.range()[1] - x.range()[0]} height={430} />
          </clipPath>
        </defs>
        <YAxis scale={hrB} x={x0} ticks={hrTicks} minor={hrMinor} />
        <YAxis scale={frB} x={x0} ticks={freqTicks} minor={freqMinor} />
        <YAxis scale={cvB} x={x0} ticks={cvbaTicks} minor={cvbaMinor} labels={cvbaTickLabels} />
        <line x1={x0} x2={x0} y1={pnB.range()[1]} y2={pnB.range()[0]} stroke={AXIS} />
        <XAxis scale={x} y={949} ticks={ticks} minor={minor} labelY={965} tickLen={4} />
        <g clipPath={`url(#clip${key})`}>
          <path d={lineOf(x, hrB)(hr) || ""} fill="none" stroke={HRC} strokeWidth={1.1} />
          <path d={lineOf(x, frB)(grid(fr, frT0, frDt)) || ""} fill="none" stroke={FRC} strokeWidth={1} />
          <Spikes x={x} y={cvB} up={up} down={down} t0={spT0} dt={0.1} color="#2424f5" width={1} opacity={0.78} />
          <path d={bandOf(x, cvB)(grid(core, coreT0, 0.5)) || ""} fill="#0000e6" />
          <path d={lineOf(x, pnB)(pna) || ""} fill="none" stroke={PNC} strokeWidth={1.1} />
        </g>
      </g>
    );
  };

  const dash = { stroke: "#111", strokeWidth: 1.6, strokeDasharray: "5.5 3.5", fill: "none" };
  const zx = zoomMarks.map((t) => xT(t));

  return (
    <svg width={760} height={995} viewBox="0 0 760 995"
      style={{ position: "absolute", left: 0, top: 0, background: "#fff" }} fontFamily={FONT}>
      <rect x={0} y={0} width={760} height={995} fill="#fff" />
      <defs>
        <clipPath id="clipTop"><rect x={108} y={60} width={564} height={400} /></clipPath>
      </defs>

      {/* drug annotations */}
      {drugTimes.map((t, i) => {
        const ax = xT(t);
        const yTop = i === 0 ? 40 : 38;
        const yHead = i === 0 ? 80 : 65;
        return (
          <g key={"drug" + i}>
            <text x={ax} y={11.5} textAnchor="middle" fontSize={13} fill={TXT}>{drugLabels[i][0]}</text>
            <text x={ax} y={27.5} textAnchor="middle" fontSize={13} fill={TXT}>{drugLabels[i][1]}</text>
            <line x1={ax} x2={ax} y1={yTop} y2={yHead + 2} stroke="#000" strokeWidth={1.6} />
            <polygon points={`${ax - 6},${yHead} ${ax + 6},${yHead} ${ax},${yHead + 11}`} fill="#000" />
          </g>
        );
      })}

      {/* top panel axes */}
      <YAxis scale={hrT} x={108} ticks={hrTicks} minor={hrMinor} />
      <YAxis scale={frT} x={108} ticks={freqTicks} minor={freqMinor} />
      <YAxis scale={cvT} x={108} ticks={cvbaTicks} minor={cvbaMinor} labels={cvbaTickLabels} />
      <line x1={108} x2={108} y1={372} y2={457} stroke={AXIS} />
      <XAxis scale={xT} y={457} ticks={topTimeTicks} labelY={480} tickLen={5} />
      <text x={386} y={499.5} textAnchor="middle" fontSize={13} fill={TXT}>Time (s)</text>

      {/* top traces */}
      <g clipPath="url(#clipTop)">
        <path d={lineOf(xT, hrT)(topHR) || ""} fill="none" stroke={HRC} strokeWidth={1} />
        <path d={lineOf(xT, frT)(topFreq) || ""} fill="none" stroke={FRC} strokeWidth={1.3} />
        <Spikes x={xT} y={cvT} up={topCvbaUp} down={topCvbaDown} t0={0.2} dt={0.5} color={CVC} width={1.7} opacity={0.6} />
        <path d={bandOf(xT, cvT)(grid(topCvbaCore, 0.5, 1)) || ""} fill="#0000f2" />
        <path d={lineOf(xT, pnT)(topPNA) || ""} fill="none" stroke={PNC} strokeWidth={1.1} />
      </g>

      {/* left labels, top */}
      <Labels x={28} items={[["HR", 113.5], ["(bpm)", 129.5]]} />
      <Labels x={31} items={[["CVBA", 198], ["Frequency", 212.6], ["(Hz)", 227.5]]} />
      <Labels x={31} items={[["CVBA", 307.3], ["(µV)", 323.5]]} />
      <Labels x={30} items={[["∫ PNA", 418.8]]} />

      {/* bottom panels */}
      {bottomPanel(xL, "L", leftHR, leftFreq, 13.25, 0.098, leftCvbaUp, leftCvbaDown, 13.3, leftCvbaCore, 13.0, leftPNA, leftTimeTicks, leftTimeMinor)}
      {bottomPanel(xR, "R", rightHR, rightFreq, 147.95, 0.09845, rightCvbaUp, rightCvbaDown, 148.0, rightCvbaCore, 147.5, rightPNA, rightTimeTicks, rightTimeMinor)}
      <text x={266} y={990.5} textAnchor="middle" fontSize={13} fill={TXT}>Time (s)</text>
      <text x={621} y={990.5} textAnchor="middle" fontSize={13} fill={TXT}>Time (s)</text>

      <Labels x={28} items={[["HR", 575.5], ["(bpm)", 591]]} />
      <Labels x={31} items={[["CVBA", 668.3], ["Frequency", 682.7], ["(Hz)", 698.5]]} />
      <Labels x={31} items={[["CVBA", 786.7], ["(µV)", 802.5]]} />
      <Labels x={30} items={[["∫ PNA", 909]]} />

      {/* zoom guides */}
      {zx.map((xx, i) => (
        <line key={"zv" + i} x1={xx} x2={xx} y1={75} y2={457} style={dash} />
      ))}
      <line x1={zx[0]} y1={457} x2={xL(13.25)} y2={532} style={dash} />
      <line x1={zx[1]} y1={457} x2={xL(30.55)} y2={531} style={dash} />
      <line x1={zx[2]} y1={457} x2={xR(147.93)} y2={533} style={dash} />
      <line x1={zx[3]} y1={457} x2={xR(165.42)} y2={526} style={dash} />
      <line x1={xL(30.55)} x2={xL(30.55)} y1={531} y2={949} style={dash} />
      <line x1={xR(165.42)} x2={xR(165.42)} y1={526} y2={949} style={dash} />
    </svg>
  );
}
